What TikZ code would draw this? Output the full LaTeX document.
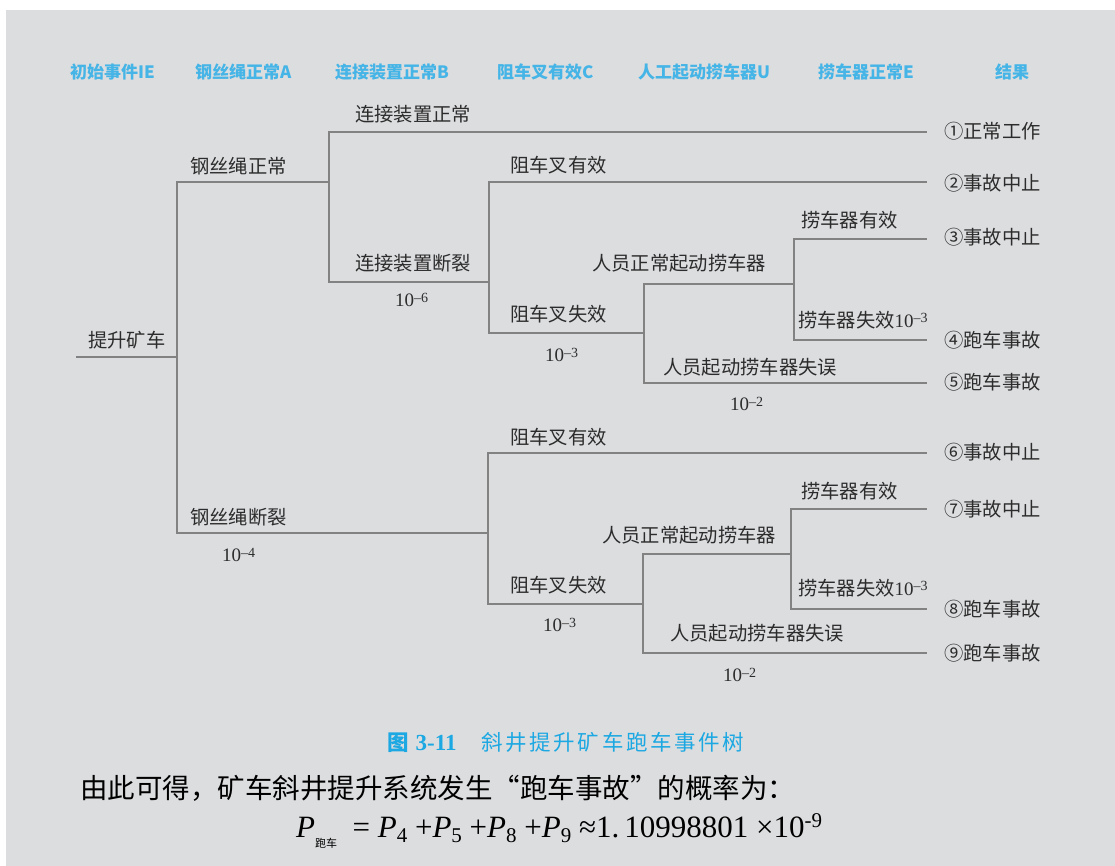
\documentclass[tikz,border=0pt]{standalone}
\usepackage{fontspec}
\setmainfont{Liberation Serif}
\newfontfamily\cjk{Noto Sans CJK SC}
\definecolor{bggray}{HTML}{DCDDDF}
\definecolor{linegray}{HTML}{828282}
\definecolor{txtgray}{HTML}{2C2C2C}
\definecolor{hblue}{HTML}{45B4E6}
\definecolor{cblue}{HTML}{1CA8E2}
\tikzset{
  br/.style={draw=linegray, line width=1.9pt, line cap=rect},
  lbl/.style={anchor=west, inner sep=0pt, text=txtgray, font=\cjk\fontsize{19.3}{21}\selectfont},
  outc/.style={anchor=west, inner sep=0pt, text=txtgray, font=\cjk\fontsize{19.3}{21}\selectfont},
  prob/.style={anchor=west, inner sep=0pt, text=txtgray, font=\fontsize{19}{21}\selectfont},
  hdr/.style={anchor=west, inner sep=0pt, text=hblue, font=\cjk\fontsize{17}{20}\selectfont\bfseries},
}
\newcommand{\pw}[1]{10\raisebox{0.55ex}{\fontsize{14}{15}\selectfont –#1}}
\begin{document}
\begin{tikzpicture}[x=1pt,y=-1pt]
\useasboundingbox (0,0) rectangle (1115,866);
\fill[white] (0,0) rectangle (1115,866);
\fill[bggray] (6,10) rectangle (1115,866);

% header
\node[hdr] (h1) at (70,72) {初始事件IE};
\node[hdr] (h2) at (195,72) {钢丝绳正常A};
\node[hdr] (h3) at (335,72) {连接装置正常B};
\node[hdr] (h4) at (497,72) {阻车叉有效C};
\node[hdr] (h5) at (638,72) {人工起动捞车器U};
\node[hdr] (h6) at (818,72) {捞车器正常E};
\node[hdr] (h7) at (995,72) {结果};

% coordinates
\coordinate (r0) at (77,357);  \coordinate (r1) at (177,357);
\coordinate (a1) at (177,182); \coordinate (a2) at (177,533);
\coordinate (b0) at (329,182);
\coordinate (b1) at (329,132); \coordinate (b2) at (329,282);
\coordinate (c0) at (489,282);
\coordinate (c1) at (489,182); \coordinate (c2) at (489,333);
\coordinate (u0) at (644,333);
\coordinate (u1) at (644,284); \coordinate (u2) at (644,383);
\coordinate (d0) at (794,284);
\coordinate (d1) at (794,239); \coordinate (d2) at (794,340);
\coordinate (e1) at (926,132); \coordinate (e2) at (926,182);
\coordinate (e3) at (926,239); \coordinate (e4) at (926,340);
\coordinate (e5) at (926,383);
\coordinate (cc0) at (488,533);
\coordinate (cc1) at (488,453); \coordinate (cc2) at (488,604);
\coordinate (uu0) at (643,604);
\coordinate (uu1) at (643,554); \coordinate (uu2) at (643,653);
\coordinate (dd0) at (791,554);
\coordinate (dd1) at (791,509); \coordinate (dd2) at (791,609);
\coordinate (e6) at (926,453); \coordinate (e7) at (926,509);
\coordinate (e8) at (926,609); \coordinate (e9) at (926,653);

% tree lines
\draw[br] (r0) -- (r1);
\draw[br] (a1) -- (a2);
\draw[br] (a1) -- (b0);
\draw[br] (b1) -- (b2);
\draw[br] (b1) -- (e1);
\draw[br] (b2) -- (c0);
\draw[br] (c1) -- (c2);
\draw[br] (c1) -- (e2);
\draw[br] (c2) -- (u0);
\draw[br] (u1) -- (u2);
\draw[br] (u1) -- (d0);
\draw[br] (u2) -- (e5);
\draw[br] (d1) -- (d2);
\draw[br] (d1) -- (e3);
\draw[br] (d2) -- (e4);
\draw[br] (a2) -- (cc0);
\draw[br] (cc1) -- (cc2);
\draw[br] (cc1) -- (e6);
\draw[br] (cc2) -- (uu0);
\draw[br] (uu1) -- (uu2);
\draw[br] (uu1) -- (dd0);
\draw[br] (uu2) -- (e9);
\draw[br] (dd1) -- (dd2);
\draw[br] (dd1) -- (e7);
\draw[br] (dd2) -- (e8);

% branch labels
\node[lbl] (l1) at (88,340) {提升矿车};
\node[lbl] (l2) at (190,166) {钢丝绳正常};
\node[lbl] (l3) at (355,114) {连接装置正常};
\node[lbl] (l4) at (355,263) {连接装置断裂};
\node[prob] (p4) at (395,300) {\pw{6}};
\node[lbl] (l5) at (510,165) {阻车叉有效};
\node[lbl] (l6) at (510,314) {阻车叉失效};
\node[prob] (p6) at (545,355) {\pw{3}};
\node[lbl] (l7) at (592,263) {人员正常起动捞车器};
\node[lbl] (l8) at (663,367) {人员起动捞车器失误};
\node[prob] (p8) at (730,404) {\pw{2}};
\node[lbl] (l9) at (801,220) {捞车器有效};
\node[lbl] (l10) at (798,320) {捞车器失效{\rmfamily\fontsize{19}{21}\selectfont \pw{3}}};
\node[lbl] (l11) at (190,517) {钢丝绳断裂};
\node[prob] (p11) at (222,555) {\pw{4}};
\node[lbl] (l12) at (510,437) {阻车叉有效};
\node[lbl] (l13) at (510,585) {阻车叉失效};
\node[prob] (p13) at (543,625) {\pw{3}};
\node[lbl] (l14) at (602,535) {人员正常起动捞车器};
\node[lbl] (l15) at (801,491) {捞车器有效};
\node[lbl] (l16) at (798,588) {捞车器失效{\rmfamily\fontsize{19}{21}\selectfont \pw{3}}};
\node[lbl] (l17) at (670,633) {人员起动捞车器失误};
\node[prob] (p17) at (723,675) {\pw{2}};

% outcomes
\node[outc] (o1) at (944,131) {①正常工作};
\node[outc] (o2) at (944,183) {②事故中止};
\node[outc] (o3) at (944,237) {③事故中止};
\node[outc] (o4) at (944,340) {④跑车事故};
\node[outc] (o5) at (944,382) {⑤跑车事故};
\node[outc] (o6) at (944,452) {⑥事故中止};
\node[outc] (o7) at (944,509) {⑦事故中止};
\node[outc] (o8) at (944,609) {⑧跑车事故};
\node[outc] (o9) at (944,653) {⑨跑车事故};

% caption and text
\node[anchor=west, inner sep=0pt, text=cblue] (cap) at (387,742)
  {{\cjk\fontsize{21.5}{24}\selectfont\bfseries 图}\hspace{7pt}{\fontsize{23}{24}\selectfont\bfseries 3-11}\hspace{25pt}{\cjk\fontsize{21.5}{24}\selectfont 斜\kern2.6pt 井\kern2.6pt 提\kern2.6pt 升\kern2.6pt 矿\kern2.6pt 车\kern2.6pt 跑\kern2.6pt 车\kern2.6pt 事\kern2.6pt 件\kern2.6pt 树}};
\node[anchor=west, inner sep=0pt, text=black, font=\cjk\fontsize{27.5}{30}\selectfont] (body) at (80,788)
  {由此可得，矿车斜井提升系统发生“跑车事故”的概率为：};
\node[anchor=west, inner sep=0pt, text=black, font=\fontsize{31}{33}\selectfont] (eq) at (296,831)
  {\textit{P}\raisebox{-0.7ex}{\cjk\fontsize{11}{12}\selectfont 跑车}\ \ = \textit{P}\raisebox{-0.35ex}{\fontsize{21}{22}\selectfont 4} +\textit{P}\raisebox{-0.35ex}{\fontsize{21}{22}\selectfont 5} +\textit{P}\raisebox{-0.35ex}{\fontsize{21}{22}\selectfont 8} +\textit{P}\raisebox{-0.35ex}{\fontsize{21}{22}\selectfont 9} ≈1.\,10998801 ×10\raisebox{0.75ex}{\fontsize{21}{22}\selectfont -9}};
\end{tikzpicture}
\end{document}
